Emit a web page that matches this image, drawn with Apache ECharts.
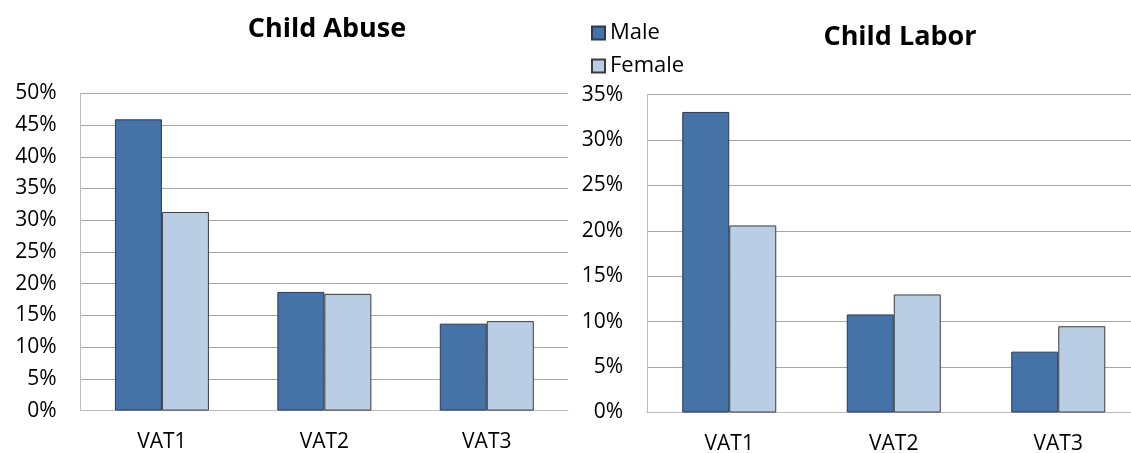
<!DOCTYPE html>
<html>
<head>
<meta charset="utf-8">
<script src="https://cdn.jsdelivr.net/npm/echarts@6/dist/echarts.min.js"></script>
<style>
  html, body { margin: 0; padding: 0; background: #fff; }
  #chart { width: 1131px; height: 453px; }
</style>
</head>
<body>
<div id="chart"></div>
<script>
const categories = ['VAT1', 'VAT2', 'VAT3']
const seriesNames = ['Male', 'Female']
const titles = ['Child Abuse', 'Child Labor']
// percent values
const abuseMale = [45.9, 18.7, 13.7]
const abuseFemale = [31.3, 18.4, 14.1]
const laborMale = [33.1, 10.8, 6.7]
const laborFemale = [20.6, 13.0, 9.5]
const abuseTicks = { min: 0, max: 50, interval: 5 }
const laborTicks = { min: 0, max: 35, interval: 5 }

const font = '"Open Sans", sans-serif'
const maleColor = '#4572a7'
const femaleColor = '#b9cde5'

const chart = echarts.init(document.getElementById('chart'))

function xAxis(gridIndex) {
  return {
    type: 'category',
    gridIndex: gridIndex,
    data: categories,
    axisLine: { lineStyle: { color: '#bcbcbc', width: 1 } },
    axisTick: { show: false },
    axisLabel: { color: '#000', fontFamily: font, fontSize: 21, margin: 21 }
  }
}

function yAxis(gridIndex, ticks) {
  return {
    type: 'value',
    gridIndex: gridIndex,
    min: ticks.min,
    max: ticks.max,
    interval: ticks.interval,
    axisLine: { show: true, lineStyle: { color: '#bcbcbc', width: 1 } },
    axisTick: { show: false },
    splitLine: { lineStyle: { color: '#a6a6a6', width: 1 } },
    axisLabel: {
      color: '#000', fontFamily: font, fontSize: 21, margin: 24,
      formatter: '{value}%'
    }
  }
}

function bar(name, data, idx, color, border) {
  return {
    name: name,
    type: 'bar',
    xAxisIndex: idx,
    yAxisIndex: idx,
    data: data,
    barWidth: 47,
    barGap: '0%',
    itemStyle: { color: color, borderColor: border, borderWidth: 1 }
  }
}

const option = {
  animation: false,
  backgroundColor: '#fff',
  title: [
    {
      text: titles[0], left: 322, top: 11, textAlign: 'center',
      textStyle: { fontFamily: font, fontSize: 27, fontWeight: 'bold', color: '#000' }
    },
    {
      text: titles[1], left: 895, top: 19, textAlign: 'center',
      textStyle: { fontFamily: font, fontSize: 27, fontWeight: 'bold', color: '#000' }
    }
  ],
  legend: {
    data: seriesNames,
    orient: 'vertical',
    left: 586,
    top: 17,
    icon: 'rect',
    itemWidth: 13,
    itemHeight: 13,
    itemGap: 11,
    textStyle: { fontFamily: font, fontSize: 22, lineHeight: 22, color: '#000' }
  },
  grid: [
    { left: 80.7, right: 563, top: 93.3, bottom: 42.4, outerBoundsMode: 'none' },
    { left: 647, width: 493.5, top: 94.7, bottom: 40.5, outerBoundsMode: 'none' }
  ],
  xAxis: [xAxis(0), xAxis(1)],
  yAxis: [yAxis(0, abuseTicks), yAxis(1, laborTicks)],
  series: [
    bar(seriesNames[0], abuseMale, 0, maleColor, '#2a3b55'),
    bar(seriesNames[1], abuseFemale, 0, femaleColor, '#3c3c3c'),
    bar(seriesNames[0], laborMale, 1, maleColor, '#2a3b55'),
    bar(seriesNames[1], laborFemale, 1, femaleColor, '#3c3c3c')
  ]
}

chart.setOption(option)
</script>
</body>
</html>
